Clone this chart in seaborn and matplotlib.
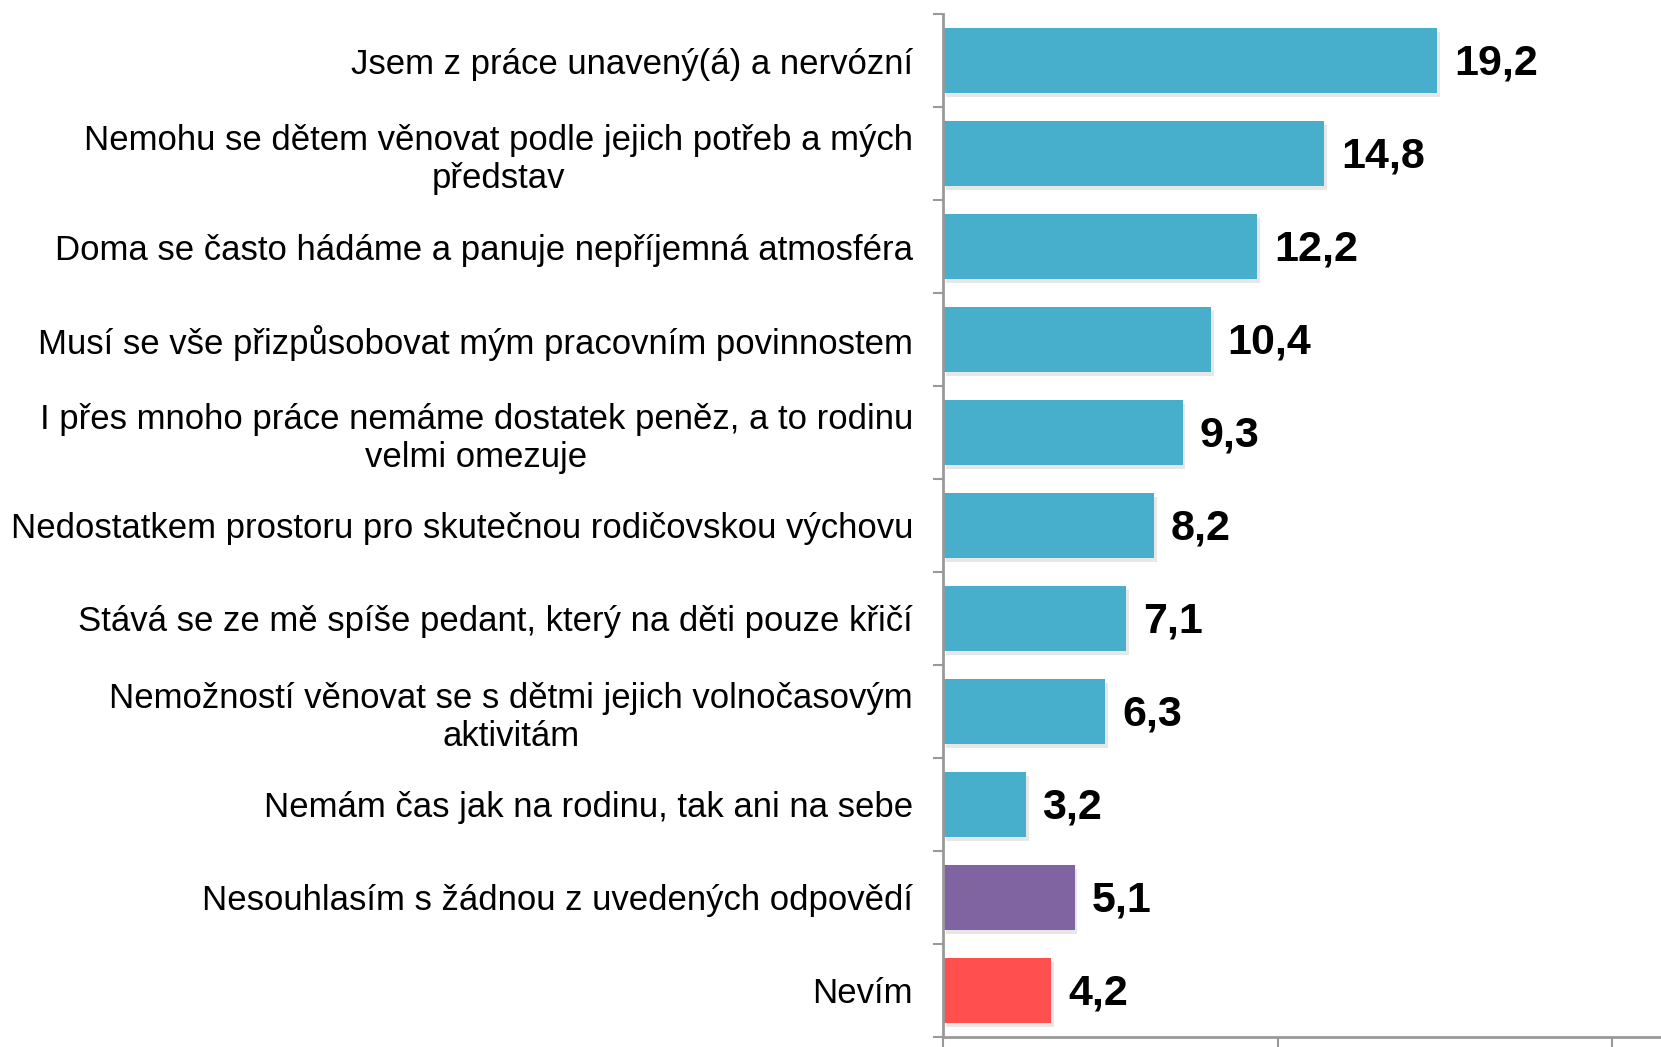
import numpy as np
import pandas as pd
import matplotlib
matplotlib.use("Agg")
import matplotlib.pyplot as plt
import matplotlib.patheffects as pe
import seaborn as sns

# data
categories = [
    "Jsem z práce unavený(á) a nervózní",
    "Nemohu se dětem věnovat podle jejich potřeb a mých\npředstav",
    "Doma se často hádáme a panuje nepříjemná atmosféra",
    "Musí se vše přizpůsobovat mým pracovním povinnostem",
    "I přes mnoho práce nemáme dostatek peněz, a to rodinu\nvelmi omezuje",
    "Nedostatkem prostoru pro skutečnou rodičovskou výchovu",
    "Stává se ze mě spíše pedant, který na děti pouze křičí",
    "Nemožností věnovat se s dětmi jejich volnočasovým\naktivitám",
    "Nemám čas jak na rodinu, tak ani na sebe",
    "Nesouhlasím s žádnou z uvedených odpovědí",
    "Nevím",
]
values = [19.2, 14.8, 12.2, 10.4, 9.3, 8.2, 7.1, 6.3, 3.2, 5.1, 4.2]
value_labels = ["19,2", "14,8", "12,2", "10,4", "9,3", "8,2", "7,1", "6,3", "3,2", "5,1", "4,2"]

BLUE, PURPLE, RED = "#47AECB", "#8064A2", "#FF4F4F"
bar_colors = [BLUE] * 9 + [PURPLE, RED]
x_ticks = [0, 13, 26]

plt.rcParams["font.family"] = ["Liberation Sans", "DejaVu Sans"]

df = pd.DataFrame({"cat": categories, "val": values})

fig = plt.figure(figsize=(16.61, 10.47), dpi=100)
ax = fig.add_axes([0.568, 0.0096, 0.432, 0.977])

sns.barplot(data=df, x="val", y="cat", hue="cat", palette=bar_colors,
            legend=False, orient="h", width=0.7, saturation=1, ax=ax)

# faint drop shadow like the original Excel chart
for bar in ax.patches:
    bar.set_path_effects([pe.SimplePatchShadow(offset=(2, -3), shadow_rgbFace="#888888", alpha=0.2),
                          pe.Normal()])

for i, (v, lab) in enumerate(zip(values, value_labels)):
    ax.annotate(lab, xy=(v, i), xytext=(12, -2), textcoords="offset points",
                ha="left", va="center", fontsize=31, fontweight="bold")

ax.set_xlim(0, 27.9)
ax.set_ylim(10.5, -0.5)
ax.set_xticks(x_ticks)
ax.set_xticklabels([])
ax.set_yticks(range(len(categories)))
ax.set_yticklabels(categories, fontsize=25, multialignment="center")
ax.set_yticks(np.arange(-0.5, 11, 1), minor=True)
ax.tick_params(axis="y", which="major", length=0, pad=22)
ax.tick_params(axis="y", which="minor", length=7, width=1.5, color="#999999")
ax.tick_params(axis="x", length=8, width=1.5, color="#999999")
ax.set_xlabel("")
ax.set_ylabel("")

for s in ["top", "right"]:
    ax.spines[s].set_visible(False)
for s in ["left", "bottom"]:
    ax.spines[s].set_color("#999999")
    ax.spines[s].set_linewidth(2)

fig.savefig("out.png", dpi=100)
